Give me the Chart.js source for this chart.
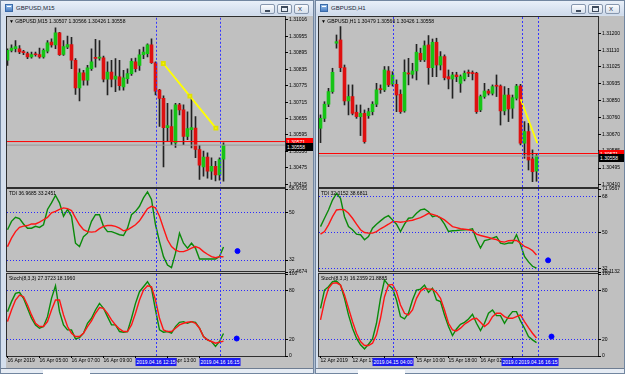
<!DOCTYPE html>
<html><head><meta charset="utf-8">
<script src="https://cdn.jsdelivr.net/npm/chart.js@4.4.1/dist/chart.umd.min.js"></script>
<style>
*{box-sizing:border-box}
html,body{margin:0;padding:0}
body{width:625px;height:374px;overflow:hidden;position:relative;background:#aebdd1;font-family:"Liberation Sans",Arial,sans-serif}
.a{position:absolute}
.win{background:#d4dfed;border:1px solid #7286a0}
.tb{background:linear-gradient(#e9f0f9,#cfdbeb)}
.ttl{font-size:6px;color:#1b2838;white-space:nowrap;line-height:7px}
.btn{border:1px solid #8797ae;border-radius:2px;background:linear-gradient(#fbfcfe,#d6e0ec)}
.cli{background:#c0c0c0}
.pane{border:1px solid #2e2e2e;background:#c0c0c0}
.hdr{font-size:5px;line-height:6px;color:#000;white-space:nowrap;z-index:5}
.tag{font-size:5px;line-height:8px;height:8px;color:#fff;white-space:nowrap;z-index:6;padding:0 1px}
canvas{position:absolute;z-index:2}
</style></head><body>
<script>
// ---------- DATA : GBPUSD M15 (left window) ----------
const m15Open  = [1.30868,1.30904,1.30910,1.30910,1.30898,1.30892,1.30880,1.30889,1.30889,1.30880,
 1.30901,1.30934,1.30924,1.30968,1.30889,1.30916,1.30925,1.30868,1.30767,1.30822,
 1.30795,1.30837,1.30876,1.30876,1.30877,1.30799,1.30825,1.30799,1.30807,1.30771,
 1.30801,1.30819,1.30862,1.30849,1.30888,1.30892,1.30924,1.30859,1.30759,1.30729,
 1.30622,1.30626,1.30566,1.30705,1.30687,1.30590,1.30614,1.30620,1.30542,1.30478,
 1.30514,1.30463,1.30481,1.30449,1.30507];
const m15High  = [1.30910,1.30924,1.30940,1.30922,1.30904,1.30898,1.30898,1.30898,1.30912,1.30910,
 1.30940,1.30946,1.30986,1.30970,1.30940,1.30956,1.30952,1.30874,1.30837,1.30831,
 1.30849,1.30910,1.30944,1.30940,1.30883,1.30862,1.30868,1.30874,1.30868,1.30831,
 1.30837,1.30874,1.30876,1.30907,1.30916,1.30928,1.30946,1.30862,1.30762,1.30738,
 1.30711,1.30687,1.30711,1.30711,1.30705,1.30680,1.30729,1.30662,1.30557,1.30536,
 1.30530,1.30512,1.30499,1.30512,1.30566];
const m15Low   = [1.30849,1.30898,1.30898,1.30892,1.30888,1.30874,1.30876,1.30883,1.30876,1.30876,
 1.30895,1.30916,1.30910,1.30886,1.30886,1.30910,1.30837,1.30743,1.30719,1.30777,
 1.30777,1.30831,1.30843,1.30868,1.30789,1.30741,1.30771,1.30753,1.30759,1.30759,
 1.30783,1.30813,1.30825,1.30831,1.30874,1.30880,1.30856,1.30741,1.30626,1.30478,
 1.30572,1.30560,1.30550,1.30668,1.30560,1.30578,1.30548,1.30512,1.30433,1.30445,
 1.30437,1.30433,1.30427,1.30430,1.30426];
const m15Close = [1.30904,1.30912,1.30918,1.30898,1.30896,1.30880,1.30889,1.30888,1.30880,1.30904,
 1.30932,1.30924,1.30968,1.30888,1.30918,1.30925,1.30868,1.30767,1.30822,1.30795,
 1.30840,1.30862,1.30875,1.30880,1.30799,1.30825,1.30799,1.30810,1.30775,1.30804,
 1.30819,1.30864,1.30837,1.30888,1.30898,1.30924,1.30859,1.30755,1.30729,1.30622,
 1.30629,1.30572,1.30705,1.30687,1.30590,1.30618,1.30622,1.30542,1.30485,1.30514,
 1.30463,1.30481,1.30449,1.30505,1.30558];
const m15TdiGreen = [43.5,46.7,48.2,47.7,45.7,44.1,44.1,44.8,44.4,45.4,51.2,53.7,56.5,53.7,48.6,51.2,48.6,38.4,37.1,40.9,
 42.2,46.7,49.2,49.2,44.8,42.8,42.8,42.2,41.6,41.3,44.1,49.2,50.5,52.4,55.6,57.9,55.0,45.4,39.0,33.3,
 30.1,29.1,34.6,42.2,38.4,36.5,38.4,36.5,32.4,32.4,32.4,32.4,32.4,33.3,36.97];
const m15TdiRed = [37.1,40.3,42.8,44.4,44.9,45.1,45.7,45.7,46.4,47.3,48.2,49.9,50.5,51.2,51.8,51.5,50.8,48.0,45.4,43.5,
 42.8,42.6,42.8,43.9,44.8,45.1,45.1,44.8,44.1,43.1,43.5,44.4,45.4,46.9,49.2,51.5,52.4,51.8,48.6,44.1,
 39.7,37.1,35.8,35.2,35.2,35.8,36.5,37.1,36.5,35.2,34.2,33.3,32.9,33.3,33.25];
const m15StochMain = [54.1,66.3,76.4,77.6,70.3,58.2,46.0,37.9,33.9,35.9,48.0,70.3,85.7,54.1,37.9,31.8,31.8,20.9,22.5,27.8,
 39.9,46.0,56.1,64.2,58.2,48.0,37.9,37.9,29.8,29.0,29.8,46.0,64.2,78.4,84.5,90.6,82.5,56.1,31.8,29.0,
 29.8,27.8,35.9,41.1,41.9,39.9,41.9,41.1,33.9,23.7,19.7,17.7,11.6,17.7,27.37];
const m15StochSignal = [42.0,56.1,68.3,74.4,72.3,62.2,50.1,39.9,35.9,35.9,42.0,56.1,68.3,68.3,50.1,35.9,27.8,23.7,23.7,27.8,
 35.9,42.8,52.1,59.0,58.2,52.1,44.0,37.9,33.0,29.8,29.8,37.9,52.1,68.3,80.4,85.7,84.5,68.3,46.0,31.8,
 29.8,29.8,33.9,37.9,39.9,41.1,41.9,39.9,33.9,23.7,19.7,17.7,15.6,16.8,18.2];
const m15PriceTicks = [1.31016,1.30955,1.30895,1.30835,1.30775,1.30715,1.30655,1.30595,1.30536,1.30475,1.30415];
const m15TdiTicks = [58.9705,50,32,27.4674];
const m15TdiTickLabels = ['58.9705','50','32','27.4674'];
const m15TimeTicks = [0,8,16,24,32,40,48];
const m15TimeLabels = ['16 Apr 2019','16 Apr 05:00','16 Apr 07:00','16 Apr 09:00','16 Apr 11:00','16 Apr 13:00','16 Apr 15:00'];
const m15VLines = [37,53];
const m15VLineLabels = ['2019.04.16 12:15','2019.04.16 16:15'];
const m15Trend = [{x:38.95,y:1.30856},{x:45.6,y:1.30737},{x:52.1,y:1.30620}];
const m15TdiDot = [{x:57.5,y:35.4}];
const m15StochDot = [{x:57.3,y:21.3}];

// ---------- DATA : GBPUSD H1 (right window) ----------
const h1Open  = [1.30703,1.30755,1.30829,1.30895,1.31148,1.31165,1.31020,1.30846,1.30869,1.30787,
 1.30764,1.30781,1.30769,1.30790,1.30829,1.30907,1.30904,1.31003,1.30935,1.30933,
 1.30881,1.30794,1.30991,1.30985,1.31003,1.31095,1.31061,1.31139,1.31020,1.31153,
 1.31034,1.31078,1.30973,1.30961,1.30982,1.30938,1.30961,1.30993,1.30991,1.30991,
 1.30799,1.30869,1.30898,1.30886,1.30924,1.30924,1.30794,1.30877,1.30808,1.30860,
 1.30924,1.30625,1.30686,1.30543,1.30479];
const h1High  = [1.30773,1.30842,1.30912,1.31017,1.31191,1.31235,1.31034,1.30930,1.30930,1.30825,
 1.30825,1.30799,1.30808,1.30842,1.30938,1.30930,1.31026,1.31026,1.30999,1.30956,
 1.30904,1.31061,1.31069,1.31043,1.31142,1.31122,1.31160,1.31188,1.31170,1.31174,
 1.31104,1.31087,1.31008,1.30996,1.30996,1.30982,1.31003,1.31008,1.31003,1.30996,
 1.30877,1.30938,1.30907,1.30930,1.30982,1.30930,1.30921,1.30912,1.30877,1.30933,
 1.30933,1.30738,1.30729,1.30590,1.30566];
const h1Low   = [1.30628,1.30738,1.30816,1.30886,1.31122,1.30999,1.30825,1.30773,1.30773,1.30755,
 1.30665,1.30625,1.30755,1.30773,1.30816,1.30886,1.30895,1.30921,1.30924,1.30790,
 1.30781,1.30787,1.30930,1.30965,1.30956,1.31052,1.31052,1.30933,1.30973,1.30973,
 1.31008,1.30956,1.30909,1.30860,1.30947,1.30891,1.30951,1.30973,1.30956,1.30781,
 1.30790,1.30860,1.30877,1.30877,1.30869,1.30720,1.30773,1.30738,1.30755,1.30851,
 1.30616,1.30546,1.30485,1.30424,1.30426];
const h1Close = [1.30755,1.30829,1.30895,1.30996,1.31156,1.31020,1.30846,1.30869,1.30781,1.30764,
 1.30781,1.30633,1.30790,1.30829,1.30904,1.30905,1.31008,1.30930,1.30982,1.30877,
 1.30790,1.30996,1.30987,1.31003,1.31101,1.31061,1.31135,1.31020,1.31153,1.31034,
 1.31078,1.30968,1.30961,1.30982,1.30973,1.30973,1.30991,1.30991,1.30989,1.30790,
 1.30869,1.30898,1.30886,1.30921,1.30923,1.30794,1.30877,1.30804,1.30863,1.30924,
 1.30625,1.30686,1.30537,1.30476,1.30558];
const h1TdiGreen = [53.0,57.2,61.4,66.4,69.7,67.2,58.0,53.0,51.4,49.2,48.9,46.4,48.0,52.2,54.2,55.9,57.5,58.5,56.4,54.2,
 50.5,54.2,57.2,57.5,59.7,61.4,61.9,60.5,58.0,58.5,57.2,54.2,50.5,50.9,51.0,51.2,51.4,51.5,51.9,46.4,
 42.2,45.9,46.4,47.2,48.0,44.7,44.2,44.7,44.7,48.9,43.9,38.0,35.2,33.0,32.02];
const h1TdiRed = [49.2,50.5,53.9,58.0,61.4,61.7,61.4,59.7,57.2,54.2,51.4,50.0,49.7,49.7,50.5,51.9,53.0,54.2,55.5,55.5,
 55.2,55.5,55.9,56.2,56.9,57.5,58.5,59.7,59.2,58.5,57.5,56.4,54.7,53.0,52.5,51.9,51.7,51.4,51.0,49.2,
 48.5,48.0,47.5,46.9,46.4,45.5,45.2,45.9,46.0,46.0,44.7,43.0,42.2,40.9,38.68];
const h1StochMain = [58.2,80.4,84.5,90.6,91.4,86.5,70.3,50.1,33.9,21.7,13.6,8.7,14.4,20.9,39.9,70.3,92.6,86.5,82.5,68.3,
 48.0,45.2,52.1,68.3,80.4,81.6,86.5,77.6,82.5,68.3,66.3,50.1,35.9,25.0,33.0,38.7,41.1,45.2,50.9,39.9,
 31.0,39.9,52.1,56.1,49.2,49.2,39.9,48.0,54.1,54.1,42.8,33.9,23.7,19.7,16.24];
const h1StochSignal = [44.0,66.3,82.5,88.5,89.3,86.5,74.4,58.2,42.0,27.8,17.7,12.8,12.8,15.6,25.8,46.0,72.3,86.5,87.3,78.4,
 62.2,52.1,50.1,56.1,70.3,79.2,82.5,81.6,81.6,77.6,70.3,56.1,39.9,31.8,30.6,33.9,38.7,42.0,45.2,46.0,
 41.1,35.9,39.9,48.0,52.1,52.1,48.0,46.0,46.0,48.0,50.1,42.0,34.7,27.8,21.89];
const h1PriceTicks = [1.31200,1.31110,1.31025,1.30935,1.30850,1.30760,1.30670,1.30585,1.30495,1.30410];
const h1TdiTicks = [71.9567,68,50,32,30.1132];
const h1TdiTickLabels = ['71.9567','68','50','32','30.1132'];
const h1TimeTicks = [0,8,16,24,32,40,48];
const h1TimeLabels = ['12 Apr 2019','12 Apr 17:00','15 Apr 02:00','15 Apr 10:00','15 Apr 18:00','16 Apr 02:00','16 Apr 10:00'];
const h1VLines = [18,50.25,54.25];
const h1VLineLabels = ['2019.04.15 04:00','2019.04.16 12:15','2019.04.16 16:15'];
const h1Trend = [{x:50.05,y:1.30855},{x:54.2,y:1.30625}];
const h1TdiDot = [{x:56.9,y:36.0}];
const h1StochDot = [{x:57.75,y:23.7}];

// shared
const askPrice = 1.30571, bidPrice = 1.30558;
const stochTicks = [100,80,20,0];
const stochTickLabels = ['100','80','20','0'];
const stochLevels = [80,20];

// ---------- helpers ----------
const FONT = '"Liberation Sans", Arial, sans-serif';
const GREEN='#16c416', RED='#de1010', WICK='#222222', LEVEL='#2a2aff';
function el(cls, st, txt){
  const e=document.createElement('div'); e.className='a '+(cls||'');
  for(const k in st){ e.style[k] = typeof st[k]==='number' ? st[k]+'px' : st[k]; }
  if(txt!=null) e.textContent=txt; document.body.appendChild(e); return e;
}
function cv(l,t,w,h){
  const c=document.createElement('canvas'); c.width=w; c.height=h;
  Object.assign(c.style,{left:l+'px',top:t+'px',width:w+'px',height:h+'px'});
  document.body.appendChild(c); return c.getContext('2d');
}
const vlinePlugin = {
  id:'vlines',
  afterDatasetsDraw(chart, args, opts){
    if(!opts || !opts.values) return;
    const {ctx, chartArea:a} = chart, x = chart.scales.x;
    ctx.save(); ctx.strokeStyle='#3434ff'; ctx.lineWidth=1; ctx.setLineDash([2,2]);
    opts.values.forEach(v=>{ const p=Math.round(x.getPixelForValue(v))+0.5;
      ctx.beginPath(); ctx.moveTo(p,a.top); ctx.lineTo(p,a.bottom); ctx.stroke(); });
    ctx.restore();
  }
};
Chart.register(vlinePlugin);
Chart.defaults.font.family = FONT;

function xScale(min,max,show,vals,labels){
  return { type:'linear', min, max, offset:false, display:show,
    afterBuildTicks: s => { s.ticks = vals.map(v=>({value:v})); },
    afterFit: s => { if(show) s.height = 18; },
    grid:{drawOnChartArea:false, drawTicks:true, tickLength:2, color:'#000', tickColor:'#000', offset:false},
    border:{display:false},
    ticks:{align:'start', autoSkip:false, maxRotation:0, minRotation:0, padding:0, font:{size:5}, color:'#000',
      callback:(v,i)=>labels[i]} };
}
function yScale(min,max,vals,labels,levels,axW){
  return { type:'linear', position:'right', min, max, beginAtZero:false,
    afterBuildTicks: s => { s.ticks = vals.map(v=>({value:v})); },
    afterFit: s => { s.width = axW; },
    grid:{ drawOnChartArea: !!levels, tickLength:3, tickColor:'#000', lineWidth:1,
      color: c => (levels && c.tick && levels.includes(c.tick.value)) ? LEVEL : 'rgba(0,0,0,0)' },
    border:{display:false, dash:[1,2]},
    ticks:{autoSkip:false, padding:1, font:{size:5}, color:'#000', callback:(v,i)=>labels[i]} };
}
function lineDs(vals,color){
  return {type:'line', data:vals.map((v,i)=>({x:i,y:v})), borderColor:color, borderWidth:1.4,
    pointRadius:0, tension:0, order:1};
}
function dotDs(pts){
  return {type:'line', data:pts, showLine:false, pointRadius:2.5, pointBackgroundColor:'#0000ff',
    pointBorderColor:'#0000ff', order:0};
}
function baseOpts(){
  return {responsive:false, animation:false, devicePixelRatio:1, events:[],
    plugins:{legend:{display:false}, tooltip:{enabled:false}}};
}

function buildWindow(cfg){
  const {winL, winR, paneL, axisX, x0} = cfg;
  const axW = (winR-1) - axisX;
  const xmin = (paneL - x0)/4, xmax = xmin + (axisX-paneL)/4;
  // chrome
  el('win',{left:winL,top:0,width:winR-winL,height:374});
  el('tb',{left:winL+1,top:1,width:winR-winL-2,height:14});
  el('',{left:winL+5,top:4,width:8,height:8,background:'linear-gradient(#9cc3ee,#4b7fc4)',border:'1px solid #3a6aa8'});
  el('',{left:winL+7,top:6,width:4,height:1,background:'#fff'});
  el('ttl',{left:winL+16,top:5},cfg.title);
  const bx = winR-54;
  [[0,15],[17,15],[34,15]].forEach(([dx,w],k)=>{
    el('btn',{left:bx+dx,top:4,width:w,height:10});
    if(k===0) el('',{left:bx+dx+5,top:10,width:5,height:2,background:'#3d4a5c'});
    if(k===1) el('',{left:bx+dx+4,top:6,width:7,height:6,border:'1px solid #3d4a5c',borderTopWidth:'2px'});
    if(k===2) el('',{left:bx+dx+4,top:4,fontSize:'8px',lineHeight:'10px',color:'#3d4a5c'},'x');
  });
  el('cli',{left:paneL-1,top:16,width:(winR-1)-(paneL-1),height:352});
  el('pane',{left:paneL-1,top:16,width:axisX-paneL+2,height:172});
  el('pane',{left:paneL-1,top:188,width:axisX-paneL+2,height:84});
  el('pane',{left:paneL-1,top:273,width:axisX-paneL+2,height:84});
  el('',{left:winL+1,top:368,width:winR-winL-2,height:5,background:'#e6ecf4',borderTop:'1px solid #6e7d92'});
  el('',{left:winL+43,top:370,width:47,height:4,background:'#ffffff'});
  // headers
  el('hdr',{left:paneL+2,top:18},'\u25BC '+cfg.hdr);
  el('hdr',{left:paneL+2,top:190},cfg.tdiHdr);
  el('hdr',{left:paneL+2,top:275},cfg.stHdr);

  const cl = paneL-7, cw = (winR-1)-cl;
  // ---- price chart ----
  const o=cfg.open,h=cfg.high,l=cfg.low,c=cfg.close;
  const wick = o.map((_,i)=>({x:i,y:[l[i],h[i]]}));
  const body = o.map((_,i)=>({x:i,y:[o[i],c[i]]}));
  const bodyCol = o.map((_,i)=> c[i]>o[i]?GREEN:(c[i]<o[i]?RED:'#000'));
  const p1 = baseOpts();
  p1.layout = {padding:{left:7,top:5,bottom:5,right:0}};
  p1.scales = { x:xScale(xmin,xmax,false,[],[]),
    y:yScale(cfg.pmin,cfg.pmax,cfg.priceTicks,cfg.priceTicks.map(v=>v.toFixed(5)),null,axW) };
  p1.plugins.vlines = {values:cfg.vlines};
  const priceChart = new Chart(cv(cl,12,cw,180), {type:'bar', data:{datasets:[
    {type:'bar', data:wick, backgroundColor:WICK, barThickness:1, maxBarThickness:1, grouped:false, order:4},
    {type:'bar', data:body, backgroundColor:bodyCol, barThickness:3, maxBarThickness:3, grouped:false, minBarLength:1, order:3},
    {type:'line', data:[{x:xmin,y:bidPrice},{x:xmax,y:bidPrice}], borderColor:'#9a9a9a', borderWidth:1, pointRadius:0, order:2},
    {type:'line', data:[{x:xmin,y:askPrice},{x:xmax,y:askPrice}], borderColor:'#ff0000', borderWidth:1, pointRadius:0, order:2},
    {type:'line', data:cfg.trend, borderColor:'#ffff00', borderWidth:1.8, pointRadius:cfg.trendPts?2.2:0,
      pointStyle:'rect', pointBackgroundColor:'#ffff00', pointBorderColor:'#e0e000', order:1}
  ]}, options:p1});
  // ask / bid tags
  const ys = priceChart.scales.y;
  el('tag',{left:axisX+1,top:Math.round(ys.getPixelForValue(askPrice)+12-4),width:axW-1,background:'#ff0000'},askPrice.toFixed(5));
  el('tag',{left:axisX+1,top:Math.round(ys.getPixelForValue(bidPrice)+12-2),width:axW-1,background:'#000'},bidPrice.toFixed(5));

  // ---- TDI ----
  const p2 = baseOpts();
  p2.layout = {padding:{left:7,top:5,bottom:5,right:0}};
  p2.scales = { x:xScale(xmin,xmax,false,[],[]),
    y:yScale(cfg.tdiTicks[cfg.tdiTicks.length-1],cfg.tdiTicks[0],cfg.tdiTicks,cfg.tdiLabels,cfg.tdiLevels,axW) };
  p2.plugins.vlines = {values:cfg.vlines};
  new Chart(cv(cl,184,cw,93), {type:'line', data:{datasets:[
    lineDs(cfg.tdiRed,'#ff1414'), lineDs(cfg.tdiGreen,'#0a8a0a'), dotDs(cfg.tdiDot)]}, options:p2});

  // ---- Stoch ----
  const p3 = baseOpts();
  p3.layout = {padding:{left:7,top:5,bottom:0,right:0}};
  p3.scales = { x:xScale(xmin,xmax,true,cfg.timeTicks,cfg.timeLabels),
    y:yScale(0,100,stochTicks,stochTickLabels,stochLevels,axW) };
  p3.plugins.vlines = {values:cfg.vlines};
  const stChart = new Chart(cv(cl,269,cw,105), {type:'line', data:{datasets:[
    lineDs(cfg.stSignal,'#ff1414'), lineDs(cfg.stMain,'#0a8a0a'), dotDs(cfg.stDot)]}, options:p3});
  const xs = stChart.scales.x;
  cfg.vlines.forEach((v,i)=>{
    el('tag',{left:Math.round(xs.getPixelForValue(v)+cl),top:358,background:'#1c1cf0',transform:'translateX(-50%)'},cfg.vlineLabels[i]);
  });
}

buildWindow({winL:0, winR:314, paneL:7, axisX:285, x0:7.5,
  title:'GBPUSD,M15', hdr:'GBPUSD,M15  1.30507 1.30566 1.30426 1.30558',
  tdiHdr:'TDI 36.9685 33.2451', stHdr:'Stoch(8,3,3) 27.3723 18.1960',
  open:m15Open, high:m15High, low:m15Low, close:m15Close, pmin:1.30408, pmax:1.31023,
  priceTicks:m15PriceTicks, tdiTicks:m15TdiTicks, tdiLabels:m15TdiTickLabels, tdiLevels:[50,32],
  tdiGreen:m15TdiGreen, tdiRed:m15TdiRed, stMain:m15StochMain, stSignal:m15StochSignal,
  tdiDot:m15TdiDot, stDot:m15StochDot, timeTicks:m15TimeTicks, timeLabels:m15TimeLabels,
  vlines:m15VLines, vlineLabels:m15VLineLabels, trend:m15Trend, trendPts:true});

buildWindow({winL:315, winR:625, paneL:319, axisX:598, x0:320.5,
  title:'GBPUSD,H1', hdr:'GBPUSD,H1  1.30479 1.30566 1.30426 1.30558',
  tdiHdr:'TDI 32.0152 38.6811', stHdr:'Stoch(8,3,3) 16.2359 21.8885',
  open:h1Open, high:h1High, low:h1Low, close:h1Close, pmin:1.30396, pmax:1.31285,
  priceTicks:h1PriceTicks, tdiTicks:h1TdiTicks, tdiLabels:h1TdiTickLabels, tdiLevels:[68,50,32],
  tdiGreen:h1TdiGreen, tdiRed:h1TdiRed, stMain:h1StochMain, stSignal:h1StochSignal,
  tdiDot:h1TdiDot, stDot:h1StochDot, timeTicks:h1TimeTicks, timeLabels:h1TimeLabels,
  vlines:h1VLines, vlineLabels:h1VLineLabels, trend:h1Trend, trendPts:false});
</script>
</body></html>
